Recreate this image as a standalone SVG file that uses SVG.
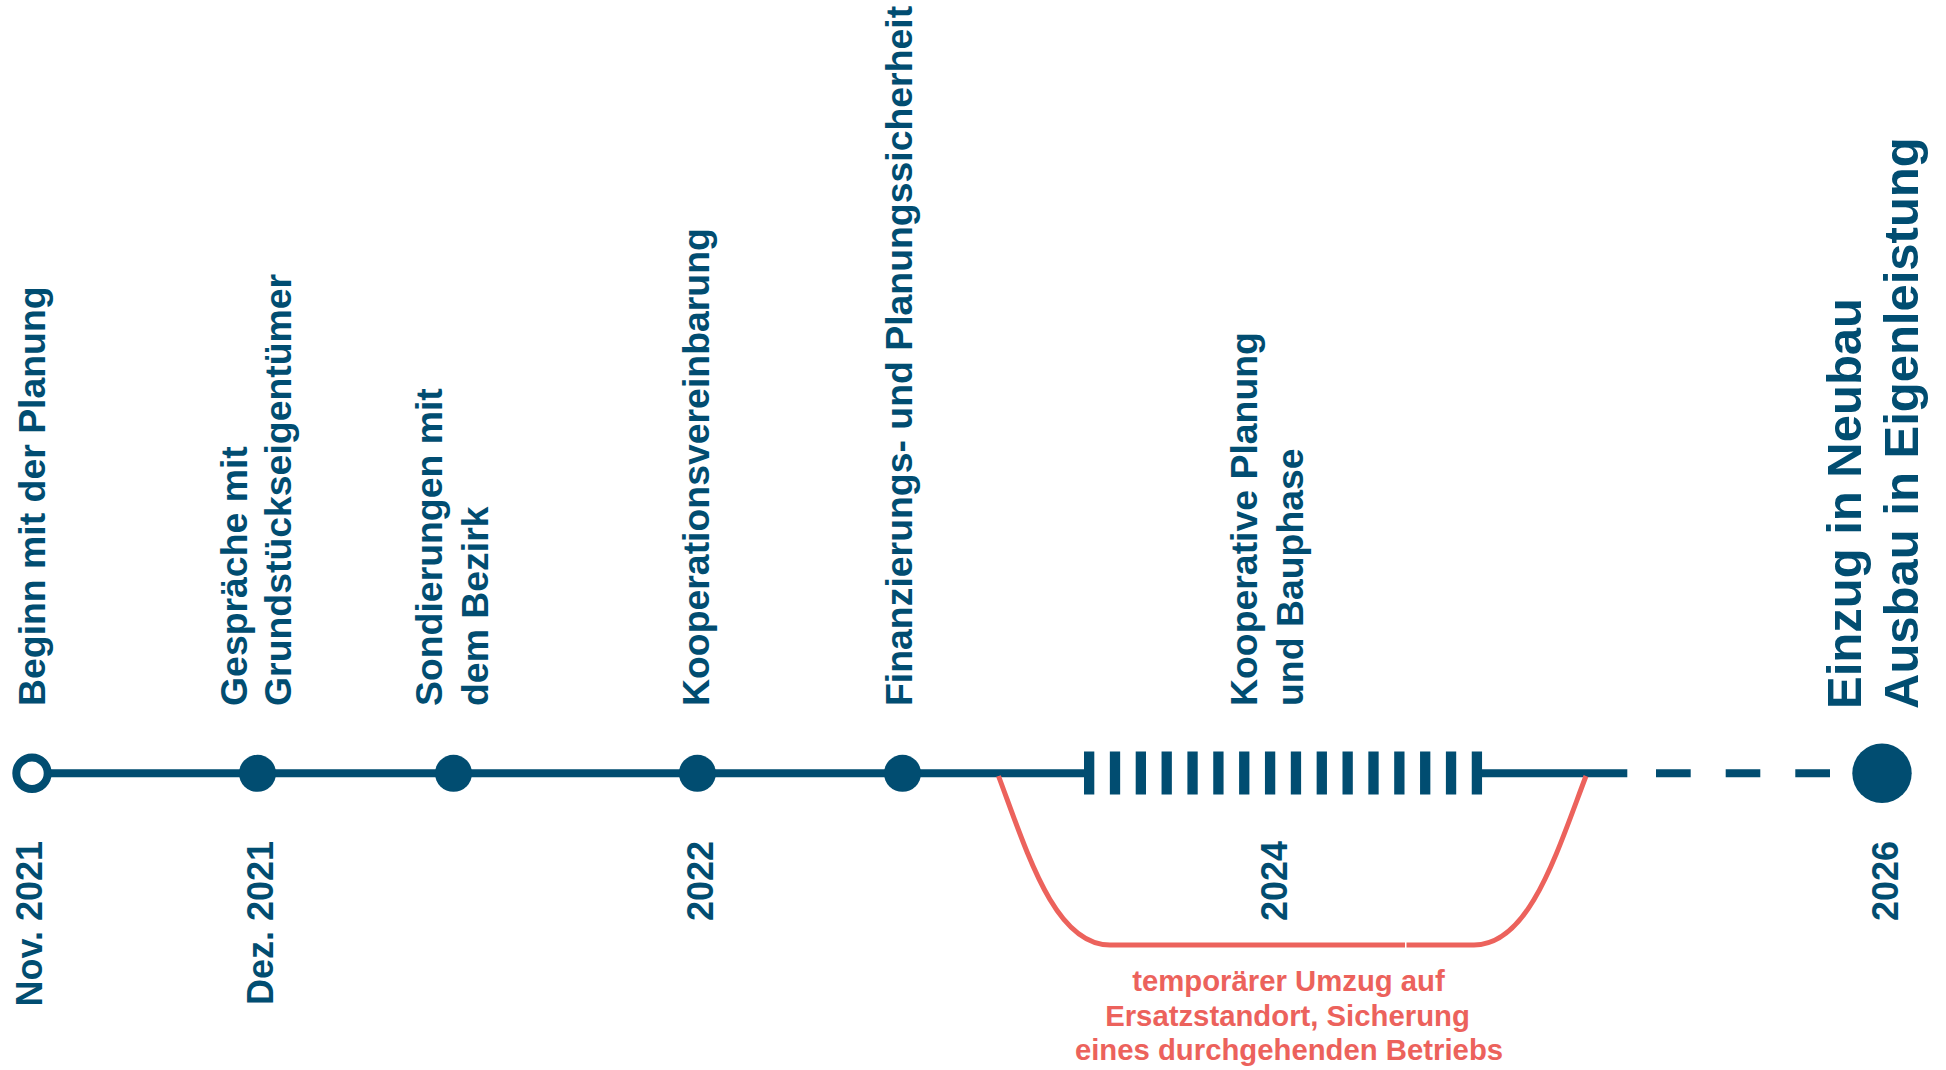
<svg xmlns="http://www.w3.org/2000/svg" width="1946" height="1070" viewBox="0 0 1946 1070">
  <style>
    .t { font-family: "Liberation Sans", Arial, Helvetica, sans-serif; font-weight: bold; fill: #014d71; }
    .lbl { font-size: 37.4px; }
    .big { font-size: 49px; }
    .date { font-size: 36px; text-anchor: end; }
    .note { font-family: "Liberation Sans", Arial, Helvetica, sans-serif; font-weight: bold; font-size: 29.3px; fill: #ec625c; text-anchor: middle; }
    .axis { stroke: #014d71; stroke-width: 8; fill: none; }
    .bar { fill: #014d71; }
    .dot { fill: #014d71; }
    .move { stroke: #ec625c; stroke-width: 5; fill: none; }
  </style>
  <defs>
    <rect id="bar" x="-5.15" y="-21.5" width="10.3" height="43"/>
  </defs>
  <rect width="1946" height="1070" fill="#ffffff"/>

  <g id="connectors">
    <line class="axis" x1="32" y1="773.3" x2="1084" y2="773.3"/>
    <line class="axis" x1="1482" y1="773.3" x2="1627.3" y2="773.3"/>
    <line class="axis" x1="1656" y1="773.3" x2="1690.7" y2="773.3"/>
    <line class="axis" x1="1725.7" y1="773.3" x2="1760.3" y2="773.3"/>
    <line class="axis" x1="1795.3" y1="773.3" x2="1830" y2="773.3"/>
    <g id="bauphase-hatch" class="bar">
      <use href="#bar" x="1089.15" y="773"/>
      <use href="#bar" x="1115.0" y="773"/>
      <use href="#bar" x="1140.85" y="773"/>
      <use href="#bar" x="1166.7" y="773"/>
      <use href="#bar" x="1192.55" y="773"/>
      <use href="#bar" x="1218.4" y="773"/>
      <use href="#bar" x="1244.25" y="773"/>
      <use href="#bar" x="1270.1" y="773"/>
      <use href="#bar" x="1295.95" y="773"/>
      <use href="#bar" x="1321.8" y="773"/>
      <use href="#bar" x="1347.65" y="773"/>
      <use href="#bar" x="1373.5" y="773"/>
      <use href="#bar" x="1399.35" y="773"/>
      <use href="#bar" x="1425.2" y="773"/>
      <use href="#bar" x="1451.05" y="773"/>
      <use href="#bar" x="1476.9" y="773"/>
    </g>
    <path class="move" d="M998.5,776 C1028,855 1055,945 1110,945 L1405,945"/>
    <path class="move" d="M1586,776 C1556,855 1529,945 1474,945 L1406.5,945"/>
  </g>

  <g id="m1">
    <circle cx="32" cy="773.3" r="15.7" fill="#ffffff" stroke="#014d71" stroke-width="8"/>
    <text class="t lbl" transform="translate(45,706) rotate(-90)">Beginn mit der Planung</text>
    <text class="t date" transform="translate(41.5,841) rotate(-90)">Nov. 2021</text>
  </g>

  <g id="m2">
    <circle class="dot" cx="257.5" cy="773.3" r="18.5"/>
    <text class="t lbl" transform="translate(246.5,706) rotate(-90)">Gespräche mit</text>
    <text class="t lbl" transform="translate(291,706) rotate(-90)">Grundstückseigentümer</text>
    <text class="t date" transform="translate(273,841) rotate(-90)">Dez. 2021</text>
  </g>

  <g id="m3">
    <circle class="dot" cx="453.5" cy="773.3" r="18.5"/>
    <text class="t lbl" transform="translate(441.5,706) rotate(-90)">Sondierungen mit</text>
    <text class="t lbl" transform="translate(488,706) rotate(-90)">dem Bezirk</text>
  </g>

  <g id="m4">
    <circle class="dot" cx="697.4" cy="773.3" r="18.5"/>
    <text class="t lbl" transform="translate(708.5,706) rotate(-90)">Kooperationsvereinbarung</text>
    <text class="t date" transform="translate(713,841) rotate(-90)">2022</text>
  </g>

  <g id="m5">
    <circle class="dot" cx="902.5" cy="773.3" r="18.5"/>
    <text class="t lbl" transform="translate(911.5,706) rotate(-90)">Finanzierungs- und Planungssicherheit</text>
  </g>

  <g id="m6">
    <text class="t lbl" transform="translate(1256.5,706) rotate(-90)">Kooperative Planung</text>
    <text class="t lbl" transform="translate(1303,706) rotate(-90)">und Bauphase</text>
    <text class="t date" transform="translate(1287,841) rotate(-90)">2024</text>
  </g>

  <g id="m7">
    <circle class="dot" cx="1882" cy="773.3" r="29.7"/>
    <text class="t big" transform="translate(1861,709) rotate(-90)">Einzug in Neubau</text>
    <text class="t big" transform="translate(1918,709) rotate(-90)">Ausbau in Eigenleistung</text>
    <text class="t date" transform="translate(1897.5,841) rotate(-90)">2026</text>
  </g>

  <g id="note-umzug">
    <text class="note" x="1288.5" y="991">temporärer Umzug auf</text>
    <text class="note" x="1287.5" y="1025.5">Ersatzstandort, Sicherung</text>
    <text class="note" x="1289" y="1060">eines durchgehenden Betriebs</text>
  </g>
</svg>
